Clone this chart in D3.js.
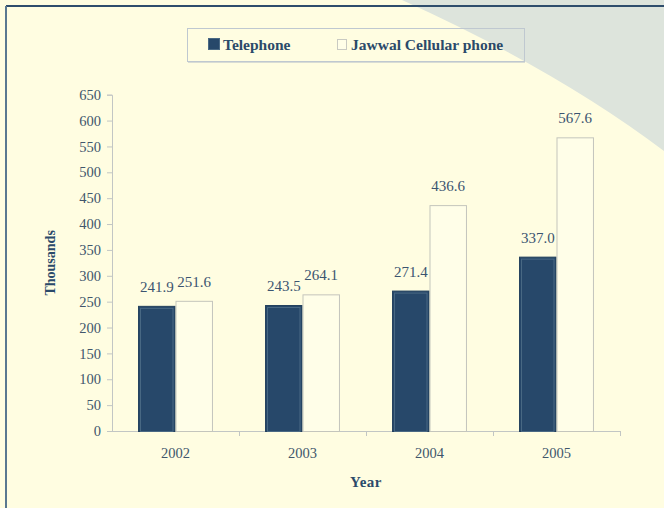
<!DOCTYPE html>
<html>
<head>
<meta charset="utf-8">
<script src="https://cdn.jsdelivr.net/npm/d3@7"></script>
<style>
  body { margin: 0; background: #fffde1; }
  svg { display: block; }
</style>
</head>
<body>
<svg id="viz"></svg>
<script>
var width = 664;
var height = 508;

// data
var years = ["2002", "2003", "2004", "2005"];
var telephone = [241.9, 243.5, 271.4, 337.0];
var cellular = [251.6, 264.1, 436.6, 567.6];
var seriesNames = ["Telephone", "Jawwal Cellular phone"];
var yTicks = d3.range(0, 651, 50);

var ink = "#2b4a6a";
var tickInk = "#41566c";

var svg = d3.select("#viz").attr("width", width).attr("height", height);

// background + grey corner
svg.append("rect").attr("width", width).attr("height", height).attr("fill", "#fffde1");
svg.append("path")
    .attr("d", "M402,0 Q557,70 664,151 L664,0 Z")
    .attr("fill", "#dde4dc");

// frame lines top and left
svg.append("line").attr("x1", 6).attr("x2", width).attr("y1", 6).attr("y2", 6)
    .attr("stroke", "#2f4d6c").attr("stroke-width", 2);
svg.append("line").attr("x1", 6).attr("x2", 6).attr("y1", 6).attr("y2", height)
    .attr("stroke", "#5a7890").attr("stroke-width", 2);

var margin = {left: 112, right: 44, top: 94.7, bottom: 77};

var x0 = d3.scaleBand()
    .domain(years)
    .range([margin.left, width - margin.right])
    .paddingInner(0.41)
    .paddingOuter(0.205);

var x1 = d3.scaleBand()
    .domain([0, 1])
    .range([0, x0.bandwidth()]);

var y = d3.scaleLinear()
    .domain([0, 650])
    .range([431, margin.top]);

var rows = years.map(function (yr, i) {
    return {year: yr, values: [telephone[i], cellular[i]]};
});

// y axis
var yAxis = svg.append("g")
    .attr("transform", "translate(" + margin.left + ",0)")
    .call(d3.axisLeft(y).tickValues(yTicks).tickSize(5).tickPadding(6));
yAxis.select(".domain").attr("stroke", "#c2c6c4");
yAxis.selectAll(".tick line").attr("stroke", "#c2c6c4");
yAxis.selectAll("text")
    .attr("fill", tickInk)
    .style("font-family", "'Liberation Serif', 'Times New Roman', serif")
    .style("font-size", "14.5px");

// x axis with ticks at the band boundaries
var step = x0.step();
var xg = svg.append("g");
xg.append("line")
    .attr("x1", margin.left).attr("x2", width - margin.right)
    .attr("y1", y(0) + 0.5).attr("y2", y(0) + 0.5)
    .attr("stroke", "#c2c6c4");
xg.selectAll("line.tk")
    .data(years.slice(1).concat(["end"]))
    .enter().append("line")
    .attr("class", "tk")
    .attr("x1", function (d, i) { return margin.left + step * (i + 1) + 0.5; })
    .attr("x2", function (d, i) { return margin.left + step * (i + 1) + 0.5; })
    .attr("y1", y(0)).attr("y2", y(0) + 5)
    .attr("stroke", "#c2c6c4");
xg.selectAll("text")
    .data(years)
    .enter().append("text")
    .attr("x", function (d) { return x0(d) + x0.bandwidth() / 2; })
    .attr("y", 458)
    .attr("text-anchor", "middle")
    .attr("fill", tickInk)
    .style("font-family", "'Liberation Serif', 'Times New Roman', serif")
    .style("font-size", "14.5px")
    .text(function (d) { return d; });

// bars
var groups = svg.append("g").selectAll("g")
    .data(rows)
    .enter().append("g")
    .attr("transform", function (d) { return "translate(" + x0(d.year) + ",0)"; });

groups.selectAll("rect.bar")
    .data(function (d) { return d.values; })
    .enter().append("rect")
    .attr("class", "bar")
    .attr("x", function (d, i) { return x1(i) + 0.5; })
    .attr("y", function (d) { return y(d) + 0.5; })
    .attr("width", x1.bandwidth() - 1)
    .attr("height", function (d) { return y(0) - y(d); })
    .attr("fill", function (d, i) { return i === 0 ? "#27486a" : "#fffee8"; })
    .attr("stroke", function (d, i) { return i === 0 ? "#23405d" : "#c4c5bc"; })
    .attr("stroke-width", 1);

// light inner edge on the dark bars
groups.append("rect")
    .attr("x", function (d) { return x1(0) + 2.5; })
    .attr("y", function (d) { return y(d.values[0]) + 2.5; })
    .attr("width", x1.bandwidth() - 5)
    .attr("height", function (d) { return y(0) - y(d.values[0]) - 2; })
    .attr("fill", "none")
    .attr("stroke", "#4a6984")
    .attr("stroke-width", 1);

// value labels
groups.selectAll("text")
    .data(function (d) { return d.values; })
    .enter().append("text")
    .attr("x", function (d, i) { return x1(i) + x1.bandwidth() / 2; })
    .attr("y", function (d) { return y(d) - 14; })
    .attr("text-anchor", "middle")
    .attr("fill", "#3b5470")
    .style("font-family", "'Liberation Serif', 'Times New Roman', serif")
    .style("font-size", "15px")
    .text(function (d) { return d.toFixed(1); });

// axis titles
svg.append("text")
    .attr("transform", "translate(55," + (y(325)) + ") rotate(-90)")
    .attr("text-anchor", "middle")
    .attr("fill", ink)
    .style("font-family", "'Liberation Serif', 'Times New Roman', serif")
    .style("font-size", "14px")
    .style("font-weight", "bold")
    .text("Thousands");

svg.append("text")
    .attr("x", (margin.left + width - margin.right) / 2)
    .attr("y", 487)
    .attr("text-anchor", "middle")
    .attr("fill", ink)
    .style("font-family", "'Liberation Serif', 'Times New Roman', serif")
    .style("font-size", "15px")
    .style("font-weight", "bold")
    .style("letter-spacing", "0.5px")
    .text("Year");

// legend
var legend = svg.append("g");
legend.append("rect")
    .attr("x", 187.5).attr("y", 28.5).attr("width", 337).attr("height", 33)
    .attr("fill", "none")
    .attr("stroke", "#bfc8d0");
legend.append("line")
    .attr("x1", 188).attr("x2", 525).attr("y1", 62.5).attr("y2", 62.5)
    .attr("stroke", "#d8dcd4");

var legendX = [208, 337];
var legendItems = legend.selectAll("g.item")
    .data(seriesNames)
    .enter().append("g")
    .attr("class", "item")
    .attr("transform", function (d, i) { return "translate(" + legendX[i] + ",0)"; });

legendItems.append("rect")
    .attr("x", 0.5)
    .attr("y", function (d, i) { return i === 0 ? 38.5 : 39.5; })
    .attr("width", function (d, i) { return i === 0 ? 11 : 9; })
    .attr("height", function (d, i) { return i === 0 ? 11 : 10; })
    .attr("fill", function (d, i) { return i === 0 ? "#27486a" : "#fffee8"; })
    .attr("stroke", function (d, i) { return i === 0 ? "#4a6984" : "#c9cac2"; });

legendItems.append("text")
    .attr("x", function (d, i) { return i === 0 ? 15 : 14; })
    .attr("y", 49.5)
    .attr("fill", ink)
    .style("font-family", "'Liberation Serif', 'Times New Roman', serif")
    .style("font-size", "15.5px")
    .style("font-weight", "bold")
    .text(function (d) { return d; });
</script>
</body>
</html>
